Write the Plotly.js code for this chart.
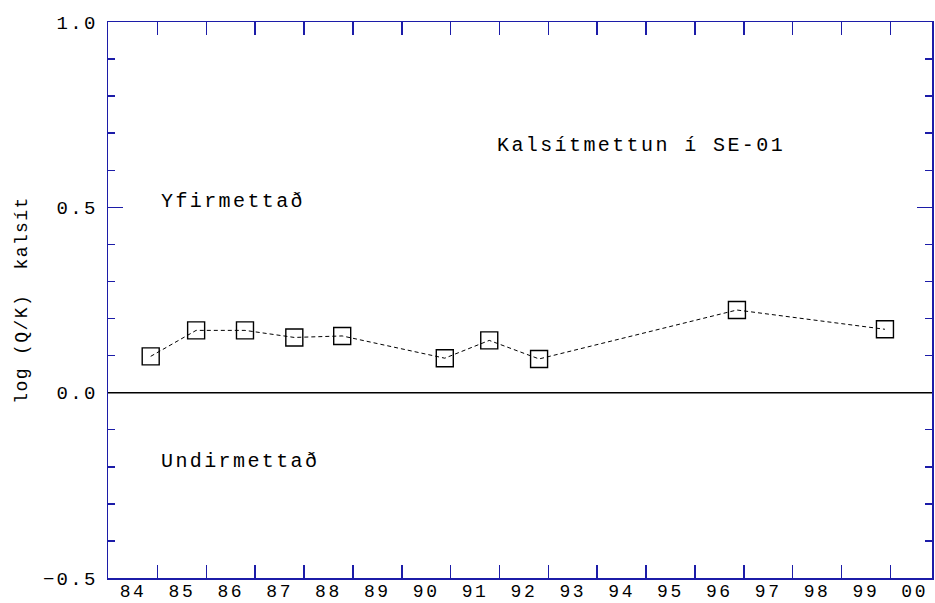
<!DOCTYPE html>
<html>
<head>
<meta charset="utf-8">
<script src="https://cdn.plot.ly/plotly-3.0.1.min.js"></script>
<style>
  html, body { margin: 0; padding: 0; background: #fff; }
  #chart { width: 935px; height: 603px; }
  .xtick text { letter-spacing: 2.6px; }
  .ytick text { letter-spacing: 2.3px; }
  .annotation-text { letter-spacing: 2.4px; }
  .ytitle { letter-spacing: 1.4px; }
</style>
</head>
<body>
<div id="chart"></div>
<script>
// Sampling dates (decimal years) and log(Q/K) for calcite in SE-01
const years = [1984.86, 1985.79, 1986.79, 1987.80, 1988.78, 1990.88, 1991.79, 1992.81, 1996.86, 1999.89];
const logQK = [0.098, 0.168, 0.168, 0.149, 0.153, 0.093, 0.141, 0.091, 0.223, 0.171];

// Year labels (centred in each year) and year boundaries (tick marks)
const labelPos = [1984.5, 1985.5, 1986.5, 1987.5, 1988.5, 1989.5, 1990.5, 1991.5, 1992.5, 1993.5, 1994.5, 1995.5, 1996.5, 1997.5, 1998.5, 1999.5, 2000.5];
const labelText = ['84','85','86','87','88','89','90','91','92','93','94','95','96','97','98','99','00'];
const yearBounds = [1985,1986,1987,1988,1989,1990,1991,1992,1993,1994,1995,1996,1997,1998,1999,2000];

const yTickVals = [-0.5, 0.0, 0.5, 1.0];
const yTickText = ['\u22120.5', '0.0', '0.5', '1.0'];

const axisBlue = '#1c1ca8';
const fontFam = '"Liberation Mono", "DejaVu Sans Mono", monospace';

const trace = {
  x: years,
  y: logQK,
  type: 'scatter',
  mode: 'lines+markers',
  line: { color: '#000', width: 1, dash: '4px,3px' },
  marker: { symbol: 'square-open', size: 17, color: '#000', line: { width: 1.4, color: '#000' } },
  hoverinfo: 'x+y'
};

const layout = {
  width: 935,
  height: 603,
  margin: { l: 108, r: 1, t: 22, b: 25, pad: 0 },
  paper_bgcolor: '#fff',
  plot_bgcolor: '#fff',
  showlegend: false,
  font: { family: fontFam, size: 19, color: '#000' },
  xaxis: {
    range: [1983.986, 2000.853],
    tickmode: 'array',
    tickvals: labelPos,
    ticktext: labelText,
    ticks: '',
    showgrid: false,
    zeroline: false,
    showline: true,
    linecolor: axisBlue,
    linewidth: 1.5,
    mirror: 'ticks',
    ticklabelstandoff: -4,
    tickfont: { family: fontFam, size: 18, color: '#000' },
    minor: {
      tickmode: 'array',
      tickvals: yearBounds,
      ticks: 'inside',
      ticklen: 13,
      tickwidth: 1.5,
      tickcolor: axisBlue,
      showgrid: false
    },
    fixedrange: true
  },
  yaxis: {
    range: [-0.5, 1.0],
    tickmode: 'array',
    tickvals: yTickVals,
    ticktext: yTickText,
    ticks: 'inside',
    ticklen: 15,
    tickwidth: 1.5,
    tickcolor: axisBlue,
    showgrid: false,
    zeroline: false,
    showline: true,
    linecolor: axisBlue,
    linewidth: 1.5,
    mirror: 'ticks',
    ticklabelstandoff: 5,
    automargin: true,
    tickfont: { family: fontFam, size: 19, color: '#000' },
    minor: {
      dtick: 0.1,
      tick0: 0,
      ticks: 'inside',
      ticklen: 7,
      tickwidth: 1.5,
      tickcolor: axisBlue,
      showgrid: false
    },
    title: { text: 'log (Q/K)  kalsít', standoff: 10, font: { family: fontFam, size: 18, color: '#000' } },
    fixedrange: true
  },
  shapes: [
    { type: 'line', xref: 'paper', x0: 0, x1: 1, yref: 'y', y0: 0, y1: 0, line: { color: '#000', width: 1.5 } }
  ],
  annotations: [
    { text: 'Kalsítmettun í SE-01', xref: 'x', yref: 'y', x: 1994.90, y: 0.668, showarrow: false, xanchor: 'center', yanchor: 'middle', font: { family: fontFam, size: 20, color: '#000' } },
    { text: 'Yfirmettað', xref: 'x', yref: 'y', x: 1985.02, y: 0.517, showarrow: false, xanchor: 'left', yanchor: 'middle', font: { family: fontFam, size: 20, color: '#000' } },
    { text: 'Undirmettað', xref: 'x', yref: 'y', x: 1985.02, y: -0.187, showarrow: false, xanchor: 'left', yanchor: 'middle', font: { family: fontFam, size: 20, color: '#000' } }
  ]
};

Plotly.newPlot('chart', [trace], layout, { displayModeBar: false, staticPlot: true });
</script>
</body>
</html>
